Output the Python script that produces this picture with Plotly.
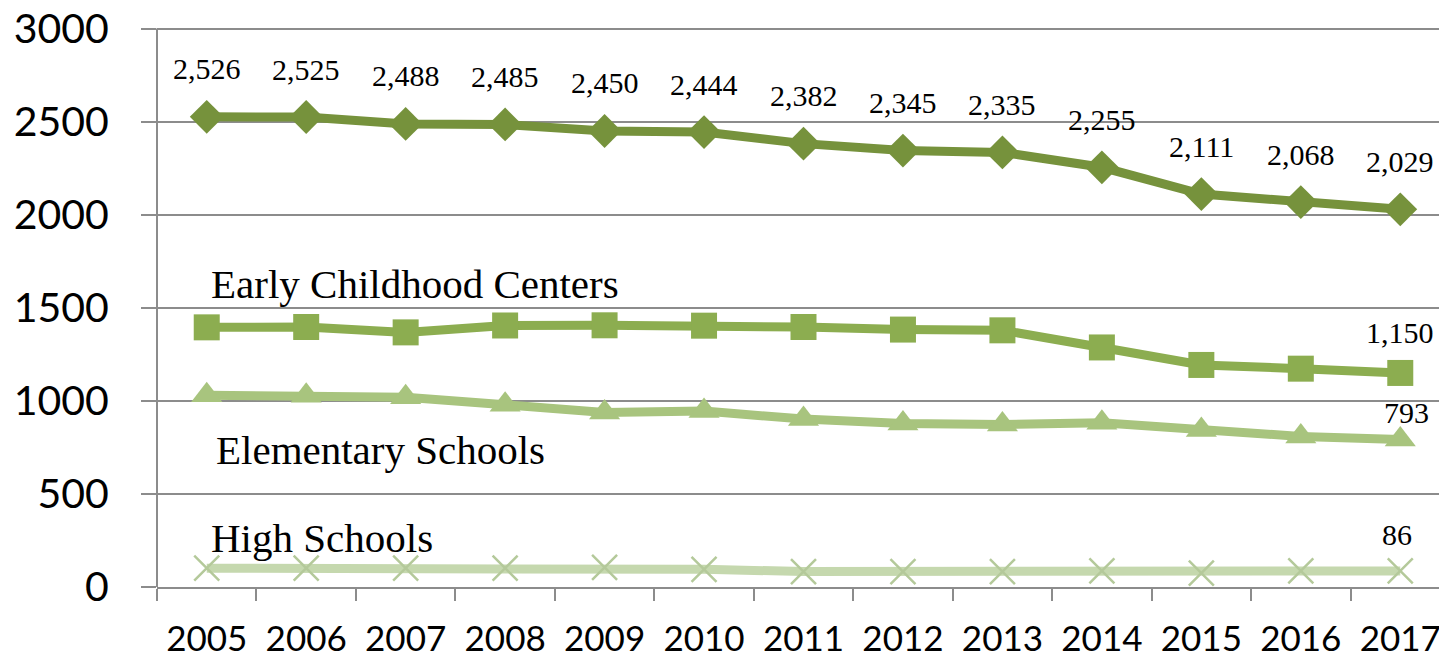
import plotly.graph_objects as go

years = ["2005", "2006", "2007", "2008", "2009", "2010", "2011",
         "2012", "2013", "2014", "2015", "2016", "2017"]
total = [2526, 2525, 2488, 2485, 2450, 2444, 2382, 2345, 2335, 2255, 2111, 2068, 2029]
early_childhood = [1395, 1397, 1368, 1405, 1406, 1404, 1397, 1383, 1379, 1287, 1193, 1173, 1150]
elementary = [1030, 1027, 1019, 979, 938, 945, 902, 879, 873, 882, 844, 809, 793]
high_schools = [101, 101, 101, 101, 106, 95, 83, 83, 83, 86, 74, 86, 86]
y_ticks = [0, 500, 1000, 1500, 2000, 2500, 3000]

C_TOTAL = "#76923C"
C_ECC = "#8CAD50"
C_ELEM = "#A8C47E"
C_HS = "#C5D8AE"
C_HS_MK = "#B4C99A"
GRID = "#8C8C8C"
SERIF = "Liberation Serif"
SANS = "Lato"

fig = go.Figure()

fig.add_trace(go.Scatter(
    x=years, y=high_schools, mode="lines+markers",
    line=dict(color=C_HS, width=9),
    marker=dict(symbol="x-thin", size=25, line=dict(color=C_HS_MK, width=2.5)),
    showlegend=False))
fig.add_trace(go.Scatter(
    x=years, y=elementary, mode="lines+markers",
    line=dict(color=C_ELEM, width=9),
    marker=dict(symbol="triangle-up", size=27, color=C_ELEM),
    showlegend=False))
fig.add_trace(go.Scatter(
    x=years, y=early_childhood, mode="lines+markers",
    line=dict(color=C_ECC, width=9),
    marker=dict(symbol="square", size=26, color=C_ECC),
    showlegend=False))
fig.add_trace(go.Scatter(
    x=years, y=total, mode="lines+markers",
    line=dict(color=C_TOTAL, width=9),
    marker=dict(symbol="diamond", size=26, color=C_TOTAL),
    showlegend=False))

LBL = dict(family=SERIF, size=30, color="#000")
annotations = []
for i, v in enumerate(total):
    annotations.append(dict(x=i, y=v, xref="x", yref="y", text=f"{v:,}", showarrow=False,
                            yshift=48, font=LBL))
last = len(years) - 1
annotations.append(dict(x=last, y=early_childhood[last], xref="x", yref="y",
                        text=f"{early_childhood[last]:,}",
                        showarrow=False, yshift=40, font=LBL))
annotations.append(dict(x=last, y=elementary[last], xref="x", yref="y",
                        text=f"{elementary[last]:,}",
                        showarrow=False, yshift=27, xshift=6, font=LBL))
annotations.append(dict(x=last, y=high_schools[last], xref="x", yref="y",
                        text=f"{high_schools[last]:,}",
                        showarrow=False, yshift=36, xshift=-3, font=LBL))

series_labels = [("Early Childhood Centers", 1629, 2),
                 ("Elementary Schools", 737, 7),
                 ("High Schools", 263, 2)]
for txt, yv, xs in series_labels:
    annotations.append(dict(x=0, y=yv, xref="x", yref="y", text=txt, showarrow=False,
                            xanchor="left", xshift=xs,
                            font=dict(family=SERIF, size=41, color="#000")))

# vertical axis line spanning only the tick range
shapes = [dict(type="line", xref="paper", yref="y", x0=0, x1=0,
               y0=y_ticks[0], y1=y_ticks[-1], line=dict(color=GRID, width=2))]

fig.update_layout(
    width=1447, height=660,
    margin=dict(l=149, r=5, t=2, b=81, autoexpand=False),
    paper_bgcolor="white", plot_bgcolor="white",
    annotations=annotations,
    shapes=shapes,
    xaxis=dict(type="category", range=[-0.5, 12.5], tickson="boundaries",
               showgrid=False, showline=True, linecolor=GRID, linewidth=2,
               ticks="outside", ticklen=12, tickwidth=1.5, tickcolor=GRID,
               tickfont=dict(family=SANS, size=35, color="#000"),
               ticklabelstandoff=20, ticklabeloverflow="allow", zeroline=False,
               automargin=False),
    yaxis=dict(range=[0, 3100], tickmode="array", tickvals=y_ticks,
               showgrid=True, gridcolor=GRID, gridwidth=2,
               showline=False,
               ticks="outside", ticklen=15, tickwidth=1.5, tickcolor=GRID,
               tickfont=dict(family=SANS, size=41, color="#000"),
               ticklabelstandoff=24, ticklabeloverflow="allow", zeroline=False,
               automargin=False),
)

fig.write_html("out.html")
